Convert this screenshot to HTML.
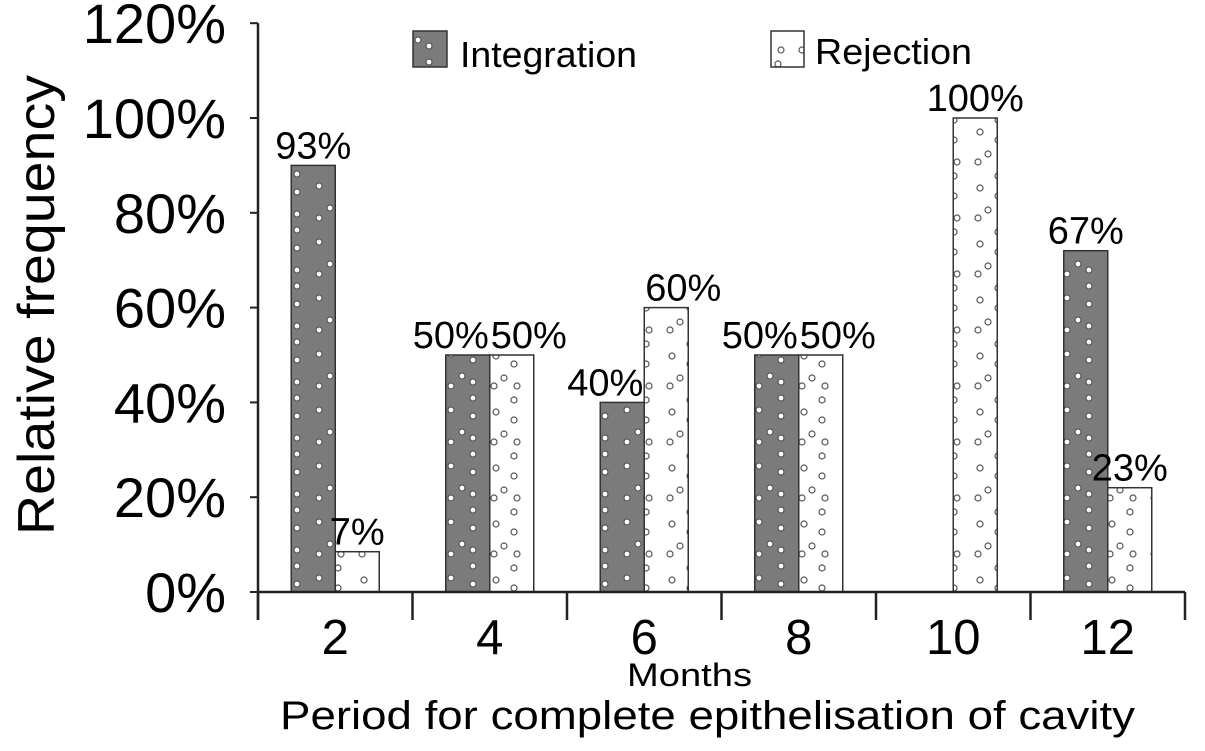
<!DOCTYPE html>
<html><head><meta charset="utf-8"><style>
body{margin:0;background:#fff;}
svg{display:block;font-family:"Liberation Sans",sans-serif;}
</style></head><body>
<svg id="chart" width="1205" height="751" viewBox="0 0 1205 751">
<defs>
<pattern id="dotsDark" width="44" height="56" patternUnits="userSpaceOnUse">
<rect width="44" height="56" fill="#7b7b7b"/>
<g fill="#fff" stroke="#555" stroke-width="1.2">
<circle cx="33" cy="6" r="3"/><circle cx="11" cy="18" r="3"/><circle cx="33" cy="24" r="3"/><circle cx="22" cy="40" r="3"/><circle cx="11" cy="50" r="3"/><circle cx="33" cy="46" r="3"/></g>
</pattern>
<pattern id="dotsLight" width="44" height="56" patternUnits="userSpaceOnUse">
<rect width="44" height="56" fill="#fff"/>
<g fill="#fff" stroke="#555" stroke-width="1.2">
<circle cx="30" cy="8" r="3"/><circle cx="12" cy="20" r="3"/><circle cx="30" cy="28" r="3"/><circle cx="20" cy="42" r="3"/><circle cx="10" cy="50" r="3"/><circle cx="33" cy="50" r="3"/></g>
</pattern>
</defs>
<g id="plot"></g>
<g>
<rect x="413" y="31" width="34" height="36" fill="url(#dotsDark)" stroke="#333" stroke-width="1.5"/>
<text x="460" y="67" font-size="36" textLength="177" lengthAdjust="spacingAndGlyphs">Integration</text>
<rect x="771" y="31" width="33" height="36" fill="url(#dotsLight)" stroke="#333" stroke-width="1.5"/>
<text x="815" y="64" font-size="36" textLength="157" lengthAdjust="spacingAndGlyphs">Rejection</text>
</g>
<text transform="translate(54,305) rotate(-90)" text-anchor="middle" font-size="52" textLength="460" lengthAdjust="spacingAndGlyphs">Relative frequency</text>
<text x="627" y="686" font-size="32" textLength="125" lengthAdjust="spacingAndGlyphs">Months</text>
<text x="280" y="729" font-size="40" textLength="855" lengthAdjust="spacingAndGlyphs">Period for complete epithelisation of cavity</text>
</svg>
<script>
const categories = ["2","4","6","8","10","12"];
const integration = [90,50,40,50,0,72];
const rejection = [8.5,50,60,50,100,22];
const integrationLabels = ["93%","50%","40%","50%","","67%"];
const rejectionLabels = ["7%","50%","60%","50%","100%","23%"];
const yTicks = [0,20,40,60,80,100,120];

const NS="http://www.w3.org/2000/svg";
const g=document.getElementById('plot');
const x0=258, groupW=154.5, y0=592, pxPer=4.74, barW=44;
const y=v=>y0-v*pxPer;
const gx=i=>x0+groupW*i+groupW/2;
function mk(t,a){const e=document.createElementNS(NS,t);for(const k in a)e.setAttribute(k,a[k]);g.appendChild(e);return e;}

yTicks.forEach(t=>{
  const l=mk('line',{x1:250,x2:x0,y1:y(t),y2:y(t),stroke:'#222','stroke-width':2});
  
  
  const tx=mk('text',{x:226,y:y(t)+20,'text-anchor':'end','font-size':56});
  tx.textContent=t+'%';
  
  
});
categories.forEach((c,i)=>{
  const cx=gx(i);
  const close=Math.abs(integration[i]-rejection[i])<25;
  [[integration[i],'url(#dotsDark)',cx-barW,integrationLabels[i],'bar-integration-'+c,0],
   [rejection[i],'url(#dotsLight)',cx,rejectionLabels[i],'bar-rejection-'+c,1]].forEach(([v,f,bx,lab,nm,k])=>{
    if(v>0){
      const r=mk('rect',{x:bx,y:y(v),width:barW,height:v*pxPer,fill:f,stroke:'#333','stroke-width':1.5});
      
      
    }
    if(lab){
      let ax='middle', tx=bx+barW/2;
      if(close){ if(k===0){ax='end';tx=cx-1;} else {ax='start';tx=cx+1;} }
      const t=mk('text',{x:tx,y:y(v)-7,'text-anchor':ax,'font-size':38});
      t.textContent=lab;
      
      
    }
  });
  const tl=mk('text',{x:cx,y:654,'text-anchor':'middle','font-size':49});
  tl.textContent=c;
  
  
});
for(let i=0;i<=categories.length;i++){
  const l=mk('line',{x1:x0+groupW*i,x2:x0+groupW*i,y1:y0,y2:620,stroke:'#222','stroke-width':2.5});
  
  
}
const ya=mk('line',{x1:x0,x2:x0,y1:y(120),y2:620,stroke:'#222','stroke-width':2.5});


const xa=mk('line',{x1:x0,x2:x0+groupW*categories.length,y1:y0,y2:y0,stroke:'#222','stroke-width':2.5});


</script>
</body></html>
